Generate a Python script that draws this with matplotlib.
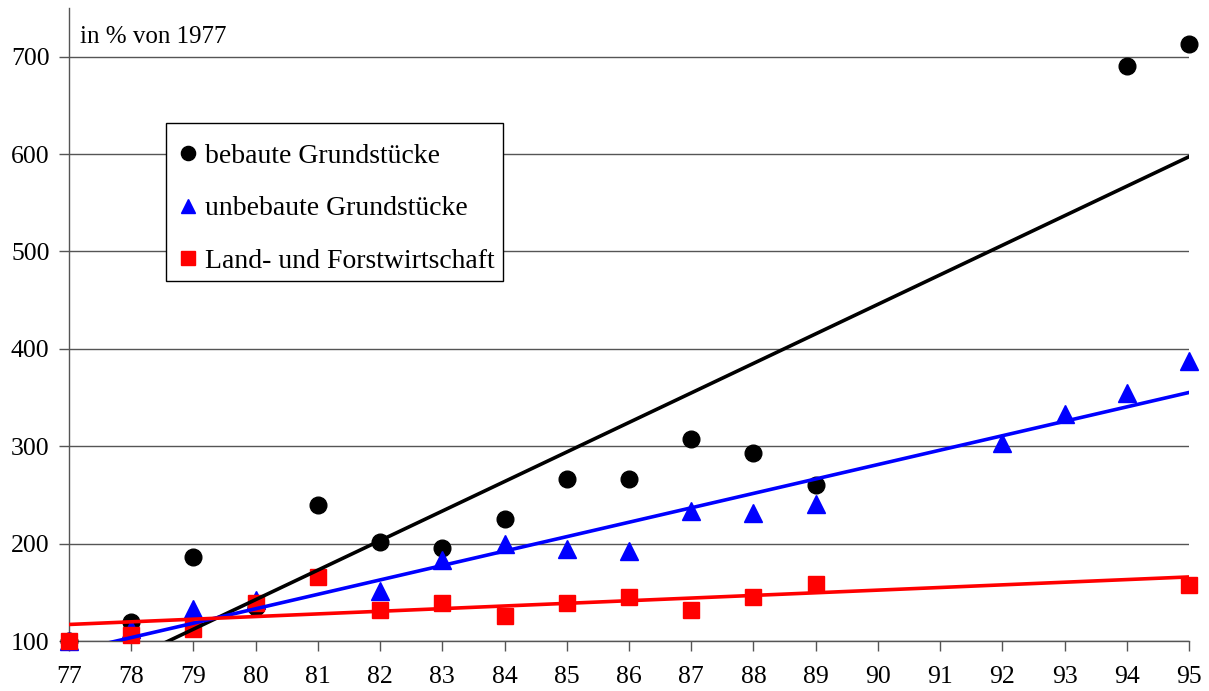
import numpy as np
import matplotlib
matplotlib.use("Agg")
import matplotlib.pyplot as plt
from matplotlib.patches import Rectangle

plt.rcParams['font.family'] = ['Liberation Serif', 'DejaVu Serif']

# Data (in % of 1977)
years_beb = [77, 78, 79, 80, 81, 82, 83, 84, 85, 86, 87, 88, 89, 94, 95]
bebaute = [100, 120, 186, 135, 240, 202, 196, 225, 266, 266, 307, 293, 260, 690, 713]

years_unb = [77, 78, 79, 80, 82, 83, 84, 85, 86, 87, 88, 89, 92, 93, 94, 95]
unbebaute = [100, 112, 133, 142, 151, 183, 200, 194, 192, 234, 231, 241, 303, 333, 355, 388]

years_lf = [77, 78, 79, 80, 81, 82, 83, 84, 85, 86, 87, 88, 89, 95]
landforst = [100, 106, 112, 139, 166, 132, 139, 126, 139, 145, 132, 145, 159, 158]

xticks = list(range(77, 96))
yticks = [100, 200, 300, 400, 500, 600, 700]
labels = ["bebaute Grundstücke", "unbebaute Grundstücke", "Land- und Forstwirtschaft"]

W, H = 1209, 691
fig = plt.figure(figsize=(W/100, H/100), dpi=100)
ax = fig.add_axes([69/W, 1-641/H, 1120/W, (641-8)/H])

series = [
    (years_beb, bebaute, 'black', 'o', 12),
    (years_unb, unbebaute, '#0000ff', '^', 12.5),
    (years_lf, landforst, '#ff0000', 's', 11.5),
]
handles = []
for (xs, ys, col, mk, ms), lab in zip(series, labels):
    h, = ax.plot(xs, ys, linestyle='none', marker=mk, color=col, markersize=ms,
                 label=lab, clip_on=False, zorder=3)
    handles.append(h)

xfit = np.array([77, 95])
for (xs, ys, col, mk, ms) in series:
    p = np.polyfit(xs, ys, 1)
    ax.plot(xfit, np.polyval(p, xfit), color=col, lw=2.6, zorder=4)

ax.set_xlim(77, 95)
ax.set_ylim(100, 750)
ax.set_xticks(xticks)
ax.set_yticks(yticks)
ax.tick_params(axis='both', labelsize=18.5, direction='out', length=7, width=1, color='#555555')
ax.tick_params(axis='x', pad=11)
ax.tick_params(axis='y', pad=7)
ax.yaxis.grid(True, color='#555555', lw=1)
ax.set_axisbelow(True)
for s in ['top', 'right']:
    ax.spines[s].set_visible(False)
for s in ['left', 'bottom']:
    ax.spines[s].set_color('#555555')
    ax.spines[s].set_linewidth(1)

ax.text(77.18, 720, "in % von 1977", fontsize=18, va='center', ha='left')

# legend frame box
box = Rectangle((166/W, 1-281/H), (503-166)/W, (281-123)/H, transform=fig.transFigure,
                facecolor='white', edgecolor='black', lw=1, zorder=5)
fig.patches.append(box)

leg = fig.legend(handles=handles, loc='upper left', bbox_to_anchor=(166/W, 1-132/H),
                 fontsize=20, frameon=False, borderaxespad=0,
                 handlelength=0.8, handletextpad=0.22, labelspacing=0.98,
                 borderpad=0.4, markerscale=0.85)
leg.set_zorder(6)

fig.savefig("out.png", dpi=100)
